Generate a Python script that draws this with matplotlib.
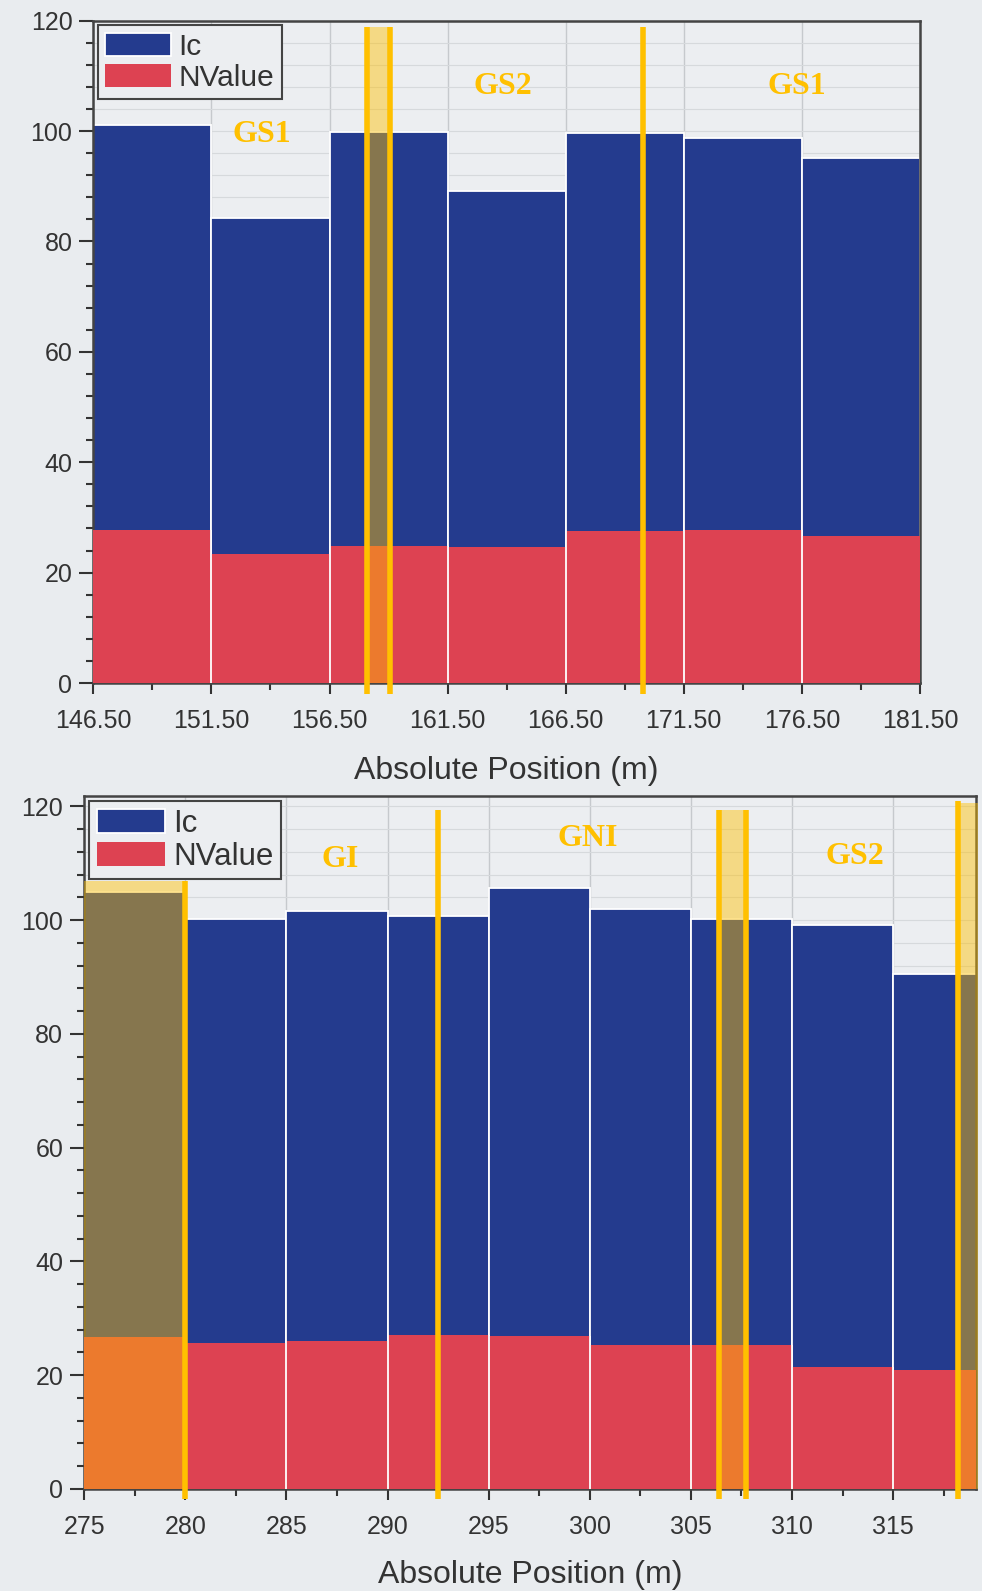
import matplotlib
matplotlib.use("Agg")
import matplotlib.pyplot as plt
from matplotlib.ticker import MultipleLocator

# ---------------- data ----------------
top_left_edges = [146.5, 151.5, 156.5, 161.5, 166.5, 171.5, 176.5]
top_ic = [101.1, 84.3, 99.9, 89.2, 99.7, 98.8, 95.1]
top_nv = [27.8, 23.3, 24.9, 24.6, 27.5, 27.7, 26.6]
top_xticks = [146.5, 151.5, 156.5, 161.5, 166.5, 171.5, 176.5, 181.5]
top_xticklabels = ["146.50", "151.50", "156.50", "161.50", "166.50", "171.50", "176.50", "181.50"]

bot_left_edges = [275, 280, 285, 290, 295, 300, 305, 310, 315]
bot_ic = [105.0, 100.1, 101.6, 100.7, 105.7, 102.0, 100.2, 99.1, 90.6]
bot_nv = [26.7, 25.7, 26.0, 27.1, 26.9, 25.3, 25.3, 21.4, 21.0]
bot_xticks = [275, 280, 285, 290, 295, 300, 305, 310, 315]
bot_xticklabels = ["275", "280", "285", "290", "295", "300", "305", "310", "315"]

yticks = [0, 20, 40, 60, 80, 100, 120]
series_names = ["Ic", "NValue"]

# annotation overlays (zone boundaries)
top_bands = [(158.08, 159.08, 118.8)]
top_lines = [(158.08, 118.8), (159.08, 118.8), (169.78, 118.8)]
top_zone_labels = ["GS1", "GS2", "GS1"]
top_zone_x = [153.63, 163.83, 176.3]
top_zone_y = [99.3, 108.0, 108.0]

bot_bands = [(275.0, 280.0, 106.9), (306.39, 307.71, 119.4), (318.2, 319.2, 120.5)]
bot_lines = [(280.0, 106.9), (292.52, 119.4), (306.39, 119.4), (307.71, 119.4), (318.2, 120.9)]
bot_zone_labels = ["GI", "GNI", "GS2"]
bot_zone_x = [287.64, 299.9, 313.1]
bot_zone_y = [110.6, 114.3, 111.1]

# ---------------- style ----------------
BLUE = "#243b8e"
RED = "#dd4252"
GOLD = "#FFC000"
FIG_BG = "#e9ecef"
AX_BG = "#eceef1"
TXT = "#333333"

plt.rcParams["font.family"] = ["Liberation Sans", "DejaVu Sans"]

W, H = 982, 1591
fig = plt.figure(figsize=(W / 100, H / 100), dpi=100, facecolor=FIG_BG)


def make_axes(l, r, t, b):
    return fig.add_axes([l / W, 1 - b / H, (r - l) / W, (b - t) / H])


ax1 = make_axes(93.3, 920.0, 20.7, 683.0)
ax2 = make_axes(84.2, 976.0, 796.0, 1489.0)


def style(ax, left_edges, ic, nv, xticks, xlabels, xlim, ylim, xminor,
          bands, lines, zl, zx, zy, line_bottom, legsize, labelpad):
    ax.set_facecolor(AX_BG)
    ax.bar(left_edges, ic, width=5, align="edge", color=BLUE,
           edgecolor="white", linewidth=1.3, zorder=2, label=series_names[0])
    ax.bar(left_edges, nv, width=5, align="edge", color=RED,
           linewidth=0, zorder=3, label=series_names[1])
    # white separators between adjacent bars over the red part
    for i in range(1, len(left_edges)):
        ax.vlines(left_edges[i], 0, max(nv[i - 1], nv[i]), colors="white",
                  linewidth=1.3, zorder=3.5)
    ax.set_xlim(*xlim)
    ax.set_ylim(*ylim)
    ax.set_xticks(xticks)
    ax.set_xticklabels(xlabels)
    ax.set_xticks(xminor, minor=True)
    ax.set_yticks(yticks)
    ax.yaxis.set_minor_locator(MultipleLocator(4))
    ax.tick_params(axis="both", which="major", labelsize=18, labelcolor=TXT,
                   color="#333333", width=1.5, direction="out")
    ax.tick_params(axis="y", which="major", length=10, pad=5)
    ax.tick_params(axis="x", which="major", length=8, pad=10.5)
    ax.tick_params(axis="both", which="minor", length=5, width=1.5,
                   color="#333333", direction="out")
    ax.grid(axis="x", which="major", color="#c6c9cd", linewidth=1.0, zorder=0)
    ax.grid(axis="y", which="both", color="#d6d9dc", linewidth=0.8, zorder=0)
    ax.set_axisbelow(True)
    for s in ax.spines.values():
        s.set_color("#444444")
        s.set_linewidth(1.8)
    ax.set_xlabel("Absolute Position (m)", fontsize=23, color=TXT, labelpad=labelpad)

    leg = ax.legend(loc="upper left", fontsize=legsize, handlelength=2.2,
                    handleheight=0.8, handletextpad=0.25, borderpad=0.25,
                    labelspacing=0.1, borderaxespad=0.15, fancybox=False,
                    framealpha=1.0, facecolor=AX_BG, edgecolor="#444444")
    leg.get_frame().set_linewidth(1.5)
    for t in leg.get_texts():
        t.set_color(TXT)
    leg.set_zorder(10)

    for x0, x1, top in bands:
        ax.fill_betweenx([0, top], x0, x1, color=GOLD, alpha=0.45,
                         linewidth=0, zorder=5, clip_on=False)
    for x, top in lines:
        ax.plot([x, x], [line_bottom, top], color=GOLD, linewidth=4,
                solid_capstyle="butt", zorder=6, clip_on=False)
    for lab, x, y in zip(zl, zx, zy):
        ax.text(x, y, lab, ha="center", va="center", color=GOLD,
                fontsize=23, fontweight="bold",
                family=["Liberation Serif", "DejaVu Serif"], zorder=7)


style(ax1, top_left_edges, top_ic, top_nv, top_xticks, top_xticklabels,
      (146.5, 181.5), (0, 120), [x + 2.5 for x in top_xticks[:-1]],
      top_bands, top_lines, top_zone_labels, top_zone_x, top_zone_y, -2.0,
      21.5, 17)

style(ax2, bot_left_edges, bot_ic, bot_nv, bot_xticks, bot_xticklabels,
      (275, 319.1), (0, 121.8), [x + 2.5 for x in bot_xticks],
      bot_bands, bot_lines, bot_zone_labels, bot_zone_x, bot_zone_y, -1.8,
      22.5, 15.5)

fig.savefig("out.png", dpi=100, facecolor=FIG_BG)
